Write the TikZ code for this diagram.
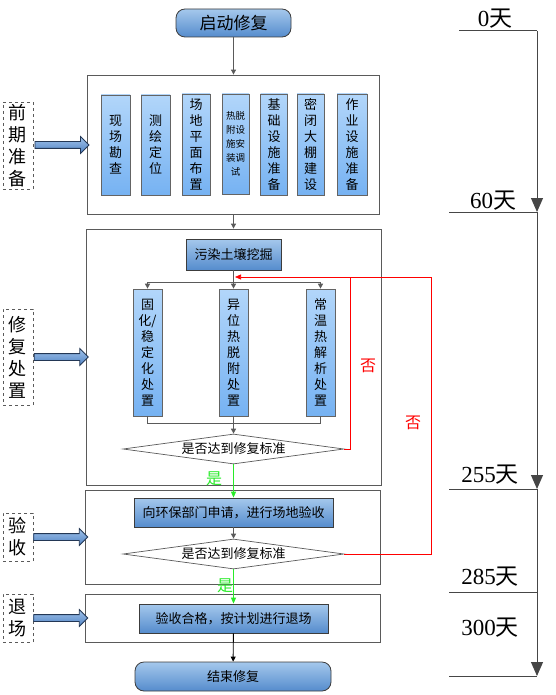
\documentclass[tikz,border=0pt]{standalone}
\usepackage{fontspec}
\setmainfont{Liberation Serif}
\newfontfamily\cjk{Noto Sans CJK SC}
\usepackage{tikz}
\usetikzlibrary{shapes.geometric, shapes.arrows, arrows.meta, positioning, calc}
\usepackage{xcolor}

\definecolor{stageGray}{RGB}{90,90,90}
\definecolor{taskEdge}{RGB}{100,100,100}
\definecolor{taskTop}{RGB}{178,214,250}
\definecolor{taskBot}{RGB}{118,178,242}
\definecolor{workEdge}{RGB}{60,60,60}
\definecolor{workTop}{RGB}{165,200,236}
\definecolor{workBot}{RGB}{85,140,205}
\definecolor{fatEdge}{RGB}{35,55,85}
\definecolor{fatTop}{RGB}{160,195,235}
\definecolor{fatBot}{RGB}{80,130,195}
\definecolor{linkGray}{RGB}{90,90,90}
\definecolor{passGreen}{RGB}{40,235,40}
\definecolor{timeGray}{RGB}{70,70,70}

\begin{document}
\begin{tikzpicture}[x=1pt, y=-1pt,
    stage/.style = {draw=stageGray, line width=0.8pt, fill=white, inner sep=0pt},
    task/.style = {draw=taskEdge, line width=0.7pt, top color=taskTop, bottom color=taskBot, inner sep=0pt, align=center, font=\cjk\fontsize{13}{16}\selectfont},
    work/.style = {draw=workEdge, line width=0.8pt, top color=workTop, bottom color=workBot, inner sep=0pt, font=\cjk\fontsize{13}{15}\selectfont},
    terminal/.style = {work, rounded corners=9pt},
    check/.style = {diamond, aspect=7, draw=stageGray, line width=0.7pt, fill=white, inner sep=0pt, minimum width=221pt, minimum height=30pt, font=\cjk\fontsize{13}{13}\selectfont},
    phase/.style = {draw=stageGray, dashed, line width=0.8pt, minimum width=30pt, inner sep=0pt, align=center, font=\cjk\fontsize{18}{22}\selectfont},
    fat/.style = {single arrow, draw=fatEdge, line width=0.8pt, top color=fatTop, bottom color=fatBot, minimum height=54pt, single arrow head extend=5pt, inner xsep=0pt, inner ysep=3pt},
    link/.style = {draw=linkGray, line width=0.9pt, -{Triangle[width=5pt, length=5pt]}},
    flow/.style = {draw=linkGray, line width=0.9pt},
    fail/.style = {draw=red, line width=0.7pt},
    failtext/.style = {text=red, inner sep=0pt, font=\cjk\fontsize{16}{16}\selectfont},
    pass/.style = {draw=passGreen, line width=0.9pt, -{Triangle[width=5pt, length=6pt]}},
    passtext/.style = {text=passGreen, inner sep=0pt, font=\cjk\fontsize{16}{16}\selectfont},
    tline/.style = {draw=timeGray, line width=1pt},
    tarrow/.style = {tline, -{Triangle[width=12pt, length=14pt]}},
    day/.style = {inner sep=0pt, font=\fontsize{23}{23}\selectfont}
]
\useasboundingbox (0,0) rectangle (555,695);

% Stage frames
\node (F1) [stage, minimum width=292pt, minimum height=139pt] at (233.5,144.5) {};
\node (F2) [stage, minimum width=295pt, minimum height=256pt] at (233.5,357) {};
\node (F3) [stage, minimum width=295pt, minimum height=94pt] at (232.5,537) {};
\node (F4) [stage, minimum width=295pt, minimum height=48pt] at (232.5,618) {};

% Start
\node (S) [terminal, minimum width=115pt, minimum height=28pt, font=\cjk\fontsize{17}{17}\selectfont] at (233.5,23) {启动修复};

% Preparation
\node (P1) [task, minimum width=29pt, minimum height=100pt] at (115.5,145) {现\\场\\勘\\查};
\node (P2) [task, minimum width=29pt, minimum height=100pt] at (155.5,145) {测\\绘\\定\\位};
\node (P3) [task, minimum width=28pt, minimum height=101pt] at (196,144.5) {场\\地\\平\\面\\布\\置};
\node (P4) [task, minimum width=27pt, minimum height=100pt, font=\cjk\fontsize{9.5}{14}\selectfont] at (235.5,144) {热脱\\附设\\施安\\装调\\试};
\node (P5) [task, minimum width=27pt, minimum height=101pt] at (274,144.5) {基\\础\\设\\施\\准\\备};
\node (P6) [task, minimum width=27pt, minimum height=101pt] at (310.5,144.5) {密\\闭\\大\\棚\\建\\设};
\node (P7) [task, minimum width=30pt, minimum height=101pt] at (352,144.5) {作\\业\\设\\施\\准\\备};

% Treatment
\node (E) [work, minimum width=95pt, minimum height=31pt] at (233.5,254.5) {污染土壤挖掘};
\node (T1) [task, minimum width=29pt, minimum height=127pt] at (147.5,352.5) {固\\化/\\稳\\定\\化\\处\\置};
\node (T2) [task, minimum width=29pt, minimum height=127pt] at (233.5,352.5) {异\\位\\热\\脱\\附\\处\\置};
\node (T3) [task, minimum width=29pt, minimum height=127pt] at (320.5,352.5) {常\\温\\热\\解\\析\\处\\置};
\node (D1) [check] at (233.5,449) {是否达到修复标准};

% Acceptance
\node (A) [work, minimum width=199pt, minimum height=29pt] at (233.5,512.5) {向环保部门申请，进行场地验收};
\node (D2) [check] at (233.5,554) {是否达到修复标准};

% Exit
\node (X) [work, minimum width=189pt, minimum height=29pt] at (233.5,618.5) {验收合格，按计划进行退场};
\node (Z) [terminal, minimum width=196pt, minimum height=29pt] at (233,676.5) {结束修复};

% Phase labels
\node (L1) [phase, minimum height=87pt] at (18,145.5) {前\\期\\准\\备};
\node (L2) [phase, minimum height=96pt] at (18,357) {修\\复\\处\\置};
\node (L3) [phase, minimum height=48pt] at (18,537) {验\\收};
\node (L4) [phase, minimum height=48pt] at (18,618) {退\\场};
\node (M1) [fat] at ($(L1.east)!0.5!(F1.west)$) {};
\node (M2) [fat] at ($(L2.east)!0.5!(F2.west)$) {};
\node (M3) [fat] at ($(L3.east)!0.5!(F3.west)$) {};
\node (M4) [fat] at ($(L4.east)!0.5!(F4.west)$) {};

% Main flow
\coordinate (B) at (233.5,282);
\coordinate (M) at (233.5,423);
\draw [link] (S) -- (F1);
\draw [link] (F1) -- (F2);
\draw [flow] (E) -- (B);
\draw [link] (B) -| (T1);
\draw [link] (B) -- (T2);
\draw [link] (B) -| (T3);
\draw [flow] (T1) |- (M);
\draw [flow] (T3) |- (M);
\draw [link] (T2) -- (D1);
\draw [link] (A) -- (D2);
\draw [link, draw=black] (X) -- (Z);

% Pass
\draw [pass] (D1) -- (A);
\draw [pass] (D2) -- (X);
\node (Y1) [passtext] at (214,479) {是};
\node (Y2) [passtext] at (225,586) {是};

% Fail loops
\coordinate (R0) at (235,277);
\coordinate (R1) at (350,277);
\coordinate (R2) at (431,277);
\draw [fail, -{Triangle[width=5pt, length=6pt]}] (D1.east) -| (R1) -- (R0);
\draw [fail] (D2.east) -| (R2) -- (R1);
\node (N1) [failtext] at (368,366) {否};
\node (N2) [failtext] at (413,423) {否};

% Timeline
\coordinate (t0) at (537,31);
\coordinate (t0l) at (459,31);
\coordinate (t60) at (537,212);
\coordinate (t60l) at (449,212);
\coordinate (t255) at (537,489);
\coordinate (t255l) at (449,489);
\coordinate (t285) at (537,592);
\coordinate (t285l) at (449,592);
\coordinate (tend) at (537,676);
\coordinate (tendl) at (449,676);
\draw [tline] (t0l) -- (t0);
\draw [tline] (t60l) -- (t60);
\draw [tline] (t255l) -- (t255);
\draw [tline] (t285l) -- (t285);
\draw [tline] (tendl) -- (tend);
\draw [tarrow] (t0) -- (t60);
\draw [tarrow] (t60) -- (t255);
\draw [tarrow] (t255) -- (tend);
\node (d0) [day] at (495,19) {0{\cjk 天}};
\node (d60) [day] at (493,201) {60{\cjk 天}};
\node (d255) [day] at (490,475) {255{\cjk 天}};
\node (d285) [day] at (490,577) {285{\cjk 天}};
\node (d300) [day] at (490,628) {300{\cjk 天}};

\end{tikzpicture}
\end{document}
